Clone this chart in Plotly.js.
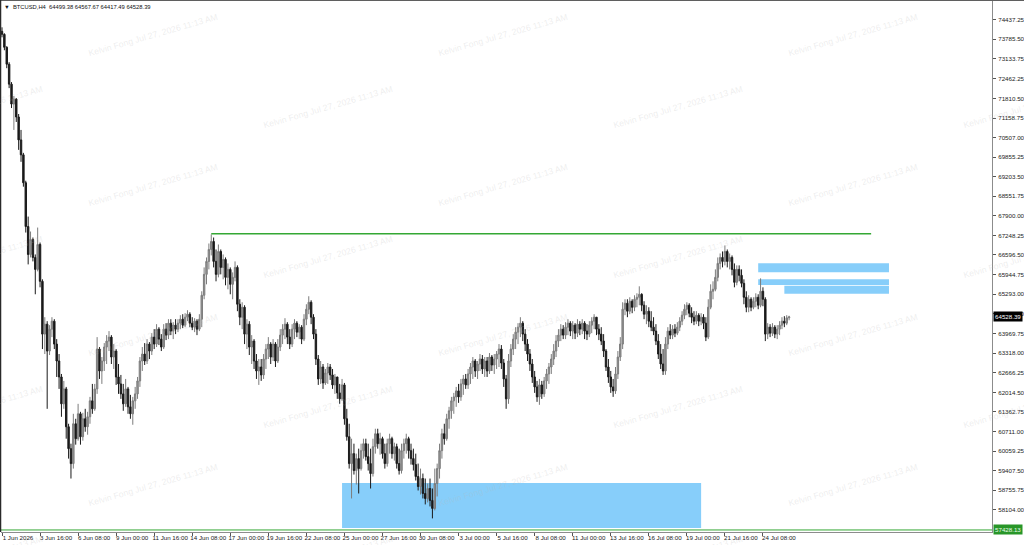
<!DOCTYPE html>
<html><head><meta charset="utf-8">
<script src="https://cdn.plot.ly/plotly-3.0.1.min.js"></script>
<style>html,body{margin:0;padding:0;background:#ffffff;overflow:hidden}#chart{width:1024px;height:545px}</style>
</head><body><div id="chart"></div>
<script>
// ---------------- data ----------------
const symbol = 'BTCUSD,H4';
const startTime = Date.UTC(2026, 5, 1, 0, 0);   // first H4 bar: 1 Jun 2026 00:00
const barHours = 4;

const open = [
74049,73949,73518,72953,72289,71625,71791,71194,70430,69932,
69002,67542,66612,67110,66512,66114,66944,65716,63956,64288,
63392,64122,64388,63624,63060,62528,61632,62130,60868,60138,
59640,60968,60470,61300,60536,61134,60868,61200,61732,61466,
62130,63458,62728,63060,63525,63724,63856,63192,63392,62528,
62296,61964,61632,62130,61532,61300,61732,61964,62396,63060,
63292,63060,63624,63392,63856,63624,64122,63790,63525,64122,
63923,64321,64056,64255,64122,64321,64454,64255,64520,64620,
64321,64188,64388,64122,64454,65251,65948,66380,66778,67044,
66380,65948,66712,66180,66446,65848,66114,65616,65848,66180,
64952,64520,64852,63956,64288,63525,63724,63060,62728,62860,
62595,63126,63458,63624,63192,63624,63060,63525,63923,64122,
64288,63856,63624,64122,64321,64022,64188,63790,64454,64786,
65018,64520,63956,63126,62462,62860,62329,62661,62860,62595,
62263,62528,61997,61798,62263,61134,60536,59640,59972,59408,
59806,59474,60072,60304,59872,59640,59308,60204,60636,60304,
60470,59972,59640,60304,60470,59972,60204,59640,59408,60072,
60304,60470,60072,59806,59607,59208,58876,59142,58644,58478,
58810,58412,58146,58976,59474,60072,60636,60470,61134,61400,
61732,61864,62064,61864,62296,62462,62263,62628,62860,63060,
62728,62960,63126,62794,63060,62728,63192,62927,63126,63292,
63458,62993,62462,61798,63060,63458,63790,64022,64188,64321,
63956,63624,63292,62960,62528,62196,61864,62263,61964,62396,
62628,62860,63126,63392,63724,63923,64122,63923,64188,64321,
64056,64255,63989,64288,64122,64321,64056,63956,64255,64388,
64520,64122,63956,63724,63392,62860,62528,62196,62064,62628,
63192,63624,64786,64985,64720,65052,64852,65118,65184,65284,
64919,64620,64720,64388,64188,64056,63724,63292,62960,62728,
63624,64056,63923,64122,63989,64188,64388,64587,64786,64919,
64653,64520,64388,64587,64388,64520,64321,63856,64852,65384,
65450,65848,66313,66512,66380,66712,66380,66512,66114,65682,
66114,65915,65649,65184,64852,65118,64852,65052,65184,64919,
65384,65118,63956,64188,63989,64188,63956,64122,64255,64388,
64321,64499.38];

const high = [
74182,73982,73551,73020,72356,71891,71824,71293,70762,69998,
69069,67874,67376,67176,66612,67508,67010,65782,64520,64388,
64255,64520,64454,63790,63292,62628,62396,62196,60968,60304,
61300,61134,61632,61366,61333,61466,61366,61864,62296,62296,
63856,63525,63192,63657,63923,64056,63923,63624,63458,62960,
62595,62296,62462,62196,61931,61864,62196,62528,63192,63525,
63657,63790,63690,63989,64122,64288,64188,63956,64288,64321,
64454,64454,64354,64454,64454,64587,64620,64653,64753,64686,
64520,64487,64454,64620,65384,66180,66512,66977,67280,67176,
66778,66944,66778,66612,66512,66313,66180,66014,66380,66247,
65118,65018,64919,64454,64388,63923,63790,63292,63126,63126,
63292,63624,63856,63690,63790,63690,63790,64122,64288,64487,
64354,64122,64288,64454,64388,64288,64255,64620,64952,65218,
65085,64620,64122,63259,63060,62960,62794,62993,62960,62794,
62628,62528,62296,62462,62329,61466,60968,60470,60304,59972,
60138,60304,60470,60470,60304,60138,60470,60802,60802,60669,
60536,60304,60470,60636,60536,60337,60304,60138,60304,60470,
60636,60536,60304,60138,59972,59640,59474,59308,59142,58976,
59142,58810,59474,59640,60304,60802,60968,61300,61532,61864,
61997,62196,62296,62462,62595,62628,62794,62993,63192,63126,
63060,63292,63259,63192,63192,63325,63259,63292,63392,63624,
63591,63126,62595,63292,63624,63956,64188,64321,64520,64388,
64122,63790,63458,63126,62728,62396,62462,62396,62528,62794,
62993,63292,63624,63923,64122,64288,64255,64354,64454,64388,
64388,64321,64454,64388,64454,64388,64288,64388,64520,64620,
64520,64288,64188,63956,63458,63126,62728,62462,62860,63392,
63856,65018,65118,65118,65184,65118,65251,65317,65550,65317,
65052,64919,64852,64720,64520,64288,63956,63624,63458,63856,
64188,64288,64255,64288,64354,64520,64720,64952,65018,64985,
64852,64720,64720,64653,64653,64620,64520,65118,65616,65716,
66114,66512,66645,66712,66911,66778,66645,66579,66313,66247,
66247,66114,65782,65384,65251,65184,65184,65317,65284,65815,
65516,65184,64321,64288,64321,64255,64255,64388,64520,64554,
64587,64567.67];

const low = [
73850,73418,72820,72156,71492,70762,71028,70098,69700,68870,
67342,66280,66512,66380,65284,66048,65516,63458,63292,61466,
63259,63856,63458,62528,62130,61200,61466,60470,59806,59142,
59474,60271,60404,60271,60404,60702,60603,60968,61300,61400,
61964,62462,62296,62728,62960,63392,62960,62794,62263,61964,
61798,61400,61532,61300,61134,60935,61466,61798,62196,62728,
62927,62960,63126,63259,63458,63525,63591,63392,63458,63757,
63790,63923,63790,63956,64022,64122,64155,64188,64388,64188,
64089,64022,63923,64056,64188,65118,65616,66114,66579,66180,
65716,65848,65948,65782,65583,65450,65284,65118,65716,64720,
64255,64122,63624,63458,63259,62960,62794,62462,62263,62396,
62462,62794,63126,62960,63060,62860,62993,63392,63624,63790,
63624,63458,63525,63790,63856,63790,63624,63724,64255,64620,
64288,63790,62927,62263,62296,62130,62263,62296,62429,62130,
61964,61798,61632,61732,60935,60404,59474,58478,59275,58943,
58644,59408,59806,59740,59408,58810,59208,59972,60138,59939,
59806,59474,59540,59972,59806,59740,59474,59275,59308,59806,
59972,59806,59607,59408,59076,58744,58611,58478,58279,58345,
58212,57814,58080,58544,59142,59806,60271,60404,60802,61134,
61300,61532,61665,61732,61931,62130,62130,62296,62462,62528,
62462,62728,62628,62528,62528,62628,62728,62628,62794,62860,
62794,62196,61466,61632,62860,63259,63458,63624,63856,63724,
63392,63060,62728,62329,61997,61698,61599,61798,61864,62130,
62296,62628,62927,63192,63525,63724,63790,63790,63923,63890,
63790,63790,63856,63923,63956,63790,63757,63856,63989,64122,
63923,63757,63591,63192,62728,62329,61997,61864,61964,62462,
63060,63458,64587,64520,64620,64653,64720,64852,64919,64720,
64454,64288,64188,64056,63923,63591,63126,62794,62595,62600,
63458,63790,63790,63856,63923,64056,64255,64454,64587,64520,
64321,64255,64288,64222,64255,64122,63724,63790,64786,65118,
65384,65716,66114,66180,66247,66180,66114,65915,65516,65583,
65716,65516,64952,64686,64686,64720,64786,64852,64786,64852,
64886,63724,63790,63856,63890,63823,63790,63923,64122,64188,
64255,64417.49];

const close = [
73949,73518,72953,72289,71625,71791,71194,70430,69932,69002,
67542,66612,67110,66512,66114,66944,65716,63956,64288,63392,
64122,64388,63624,63060,62528,61632,62130,60868,60138,59640,
60968,60470,61300,60536,61134,60868,61200,61732,61466,62130,
63458,62728,63060,63525,63724,63856,63192,63392,62528,62296,
61964,61632,62130,61532,61300,61732,61964,62396,63060,63292,
63060,63624,63392,63856,63624,64122,63790,63525,64122,63923,
64321,64056,64255,64122,64321,64454,64255,64520,64620,64321,
64188,64388,64122,64454,65251,65948,66380,66778,67044,66380,
65948,66712,66180,66446,65848,66114,65616,65848,66180,64952,
64520,64852,63956,64288,63525,63724,63060,62728,62860,62595,
63126,63458,63624,63192,63624,63060,63525,63923,64122,64288,
63856,63624,64122,64321,64022,64188,63790,64454,64786,65018,
64520,63956,63126,62462,62860,62329,62661,62860,62595,62263,
62528,61997,61798,62263,61134,60536,59640,59972,59408,59806,
59474,60072,60304,59872,59640,59308,60204,60636,60304,60470,
59972,59640,60304,60470,59972,60204,59640,59408,60072,60304,
60470,60072,59806,59607,59208,58876,59142,58644,58478,58810,
58412,58146,58976,59474,60072,60636,60470,61134,61400,61732,
61864,62064,61864,62296,62462,62263,62628,62860,63060,62728,
62960,63126,62794,63060,62728,63192,62927,63126,63292,63458,
62993,62462,61798,63060,63458,63790,64022,64188,64321,63956,
63624,63292,62960,62528,62196,61864,62263,61964,62396,62628,
62860,63126,63392,63724,63923,64122,63923,64188,64321,64056,
64255,63989,64288,64122,64321,64056,63956,64255,64388,64520,
64122,63956,63724,63392,62860,62528,62196,62064,62628,63192,
63624,64786,64985,64720,65052,64852,65118,65184,65284,64919,
64620,64720,64388,64188,64056,63724,63292,62960,62728,63624,
64056,63923,64122,63989,64188,64388,64587,64786,64919,64653,
64520,64388,64587,64388,64520,64321,63856,64852,65384,65450,
65848,66313,66512,66380,66712,66380,66512,66114,65682,66114,
65915,65649,65184,64852,65118,64852,65052,65184,64919,65384,
65118,63956,64188,63989,64188,63956,64122,64255,64388,64321,
64499.38,64528.39];

const yTickVals = [74437.25,73785.50,73133.75,72462.25,71810.50,71158.75,70507.00,69855.25,69203.50,
  68551.75,67900.00,67248.25,66596.50,65944.75,65293.00,64641.50,63969.75,63318.00,62666.25,
  62014.50,61362.75,60711.00,60059.25,59407.50,58755.75,58104.00];
const yTickText = ['74437.25','73785.50','73133.75','72462.25','71810.50','71158.75','70507.00','69855.25','69203.50',
  '68551.75','67900.00','67248.25','66596.50','65944.75','65293.00','64641.50','63969.75','63318.00','62666.25',
  '62014.50','61362.75','60711.00','60059.25','59407.50','58755.75','58104.00'];

const xTickVals = ['2026-06-01 00:00','2026-06-03 16:00','2026-06-06 08:00','2026-06-09 00:00','2026-06-11 16:00',
  '2026-06-14 08:00','2026-06-17 00:00','2026-06-19 16:00','2026-06-22 08:00','2026-06-25 00:00','2026-06-27 16:00',
  '2026-06-30 08:00','2026-07-03 00:00','2026-07-05 16:00','2026-07-08 08:00','2026-07-11 00:00','2026-07-13 16:00',
  '2026-07-16 08:00','2026-07-19 00:00','2026-07-21 16:00','2026-07-24 08:00'];
const xTickText = ['1 Jun 2026','3 Jun 16:00','6 Jun 08:00','9 Jun 00:00','11 Jun 16:00','14 Jun 08:00',
  '17 Jun 00:00','19 Jun 16:00','22 Jun 08:00','25 Jun 00:00','27 Jun 16:00','30 Jun 08:00','3 Jul 00:00',
  '5 Jul 16:00','8 Jul 08:00','11 Jul 00:00','13 Jul 16:00','16 Jul 08:00','19 Jul 00:00','21 Jul 16:00','24 Jul 08:00'];

// horizontal levels and zones (time / price)
const resistanceLevel = 67300;
const resistanceStart = '2026-06-15 16:00';
const resistanceEnd = '2026-07-31 22:00';
const bottomLevel = 57428.13;
const zoneStart = ['2026-06-24 20:00','2026-07-24 00:00','2026-07-24 00:00','2026-07-25 20:00'];
const zoneEnd   = ['2026-07-20 00:00','2026-08-02 04:00','2026-08-02 04:00','2026-08-02 04:00'];
const zoneLow   = [57495, 66017, 65590, 65304];
const zoneHigh  = [58995, 66317, 65784, 65571];

const xRange = ['2026-05-31 22:19','2026-08-09 09:18'];
const yRange = [57360, 75060];
const watermarkText = 'Kelvin Fong Jul 27, 2026 11:13 AM';

// ---------------- build ----------------
function fmt(ms){ return new Date(ms).toISOString().slice(0,16).replace('T',' '); }
const times = close.map((_, i) => fmt(startTime + i * barHours * 3600e3));

const W = 1024, H = 545;
const M = {l:1, r:32, t:1, b:13};
const pw = W - M.l - M.r, ph = H - M.t - M.b;
const px2paperX = px => (px - M.l) / pw;
const px2paperY = py => (H - M.b - py) / ph;

const GREEN = 'rgb(52,168,52)';
const ZONE = 'rgb(135,206,250)';

const shapes = [];
for (let k = 0; k < zoneStart.length; k++) {
  shapes.push({type:'rect', xref:'x', yref:'y', x0:zoneStart[k], x1:zoneEnd[k], y0:zoneLow[k], y1:zoneHigh[k],
    fillcolor:ZONE, line:{width:0}, layer:'below'});
}
shapes.push({type:'line', xref:'x', yref:'y', x0:resistanceStart, x1:resistanceEnd, y0:resistanceLevel, y1:resistanceLevel,
  line:{color:GREEN, width:1.5}});
shapes.push({type:'line', xref:'paper', yref:'y', x0:0, x1:1, y0:bottomLevel, y1:bottomLevel,
  line:{color:GREEN, width:1}});
// window frame (left/top dark edges)
shapes.push({type:'line', xref:'paper', yref:'paper', x0:-0.0005, x1:-0.0005, y0:0, y1:1.002, line:{color:'#2a2a2a', width:1.5}});
shapes.push({type:'line', xref:'paper', yref:'paper', x0:-0.001, x1:1.04, y0:1.0015, y1:1.0015, line:{color:'#2a2a2a', width:1.2}});

const annotations = [];
// watermark lattice
for (let k = 0; k <= 6; k++) {
  const cx = -22 + 175 * k;
  const y0 = (k % 2 === 0) ? 107 : 35;
  for (let m = -1; m <= 3; m++) {
    const cy = y0 + 150 * m;
    if (cy < -30 || cy > 575) continue;
    annotations.push({xref:'paper', yref:'paper', x:px2paperX(cx), y:px2paperY(cy), text:watermarkText,
      showarrow:false, textangle:-16, xanchor:'center', yanchor:'middle',
      font:{family:'Liberation Sans, Arial, sans-serif', size:8.7, color:'rgba(185,185,185,0.26)'}});
  }
}
const last = close.length - 1;
annotations.push({xref:'paper', yref:'paper', x:0, y:1, xanchor:'left', yanchor:'top', xshift:1, yshift:-1,
  showarrow:false, align:'left',
  text:'\u25BC  ' + symbol + '  ' + open[last].toFixed(2) + ' ' + high[last].toFixed(2) + ' ' + low[last].toFixed(2) + ' ' + close[last].toFixed(2),
  font:{family:'Liberation Sans, Arial, sans-serif', size:5.8, color:'#111'}});
annotations.push({xref:'paper', yref:'y', x:1, y:close[last], xanchor:'left', yanchor:'middle', xshift:1,
  showarrow:false, text:close[last].toFixed(2), bgcolor:'#000', borderpad:1,
  font:{family:'Liberation Sans, Arial, sans-serif', size:6.2, color:'#fff'}});
annotations.push({xref:'paper', yref:'y', x:1, y:bottomLevel, xanchor:'left', yanchor:'middle', xshift:1,
  showarrow:false, text:bottomLevel.toFixed(2), bgcolor:'rgb(40,150,40)', borderpad:1,
  font:{family:'Liberation Sans, Arial, sans-serif', size:6.2, color:'#e8ffe8'}});

const trace = {
  type:'candlestick', x:times, open:open, high:high, low:low, close:close,
  increasing:{line:{color:'#7c7c7c', width:1}, fillcolor:'#959595'},
  decreasing:{line:{color:'#1a1a1a', width:1}, fillcolor:'#1a1a1a'},
  whiskerwidth:0, hoverinfo:'skip'
};

const tickFont = {family:'Liberation Sans, Arial, sans-serif', size:6.2, color:'#222'};
const layout = {
  width:W, height:H, margin:M,
  paper_bgcolor:'#ffffff', plot_bgcolor:'#ffffff',
  showlegend:false, dragmode:false, hovermode:false,
  boxgap:0.4, boxgroupgap:0,
  xaxis:{type:'date', range:xRange, rangeslider:{visible:false}, showgrid:false, zeroline:false,
    tickmode:'array', tickvals:xTickVals, ticktext:xTickText, tickangle:0, ticks:'outside', ticklen:3, tickwidth:1, tickcolor:'#555',
    showline:true, linecolor:'#8c8c8c', linewidth:1, tickfont:tickFont, ticklabelshift:16, ticklabelstandoff:-3, fixedrange:true},
  yaxis:{range:yRange, side:'right', showgrid:false, zeroline:false,
    tickmode:'array', tickvals:yTickVals, ticktext:yTickText, ticks:'outside', ticklen:3, tickwidth:1, tickcolor:'#555',
    showline:true, linecolor:'#8c8c8c', linewidth:1, tickfont:tickFont, ticklabelstandoff:1, fixedrange:true},
  shapes:shapes, annotations:annotations
};

Plotly.newPlot('chart', [trace], layout, {displayModeBar:false, staticPlot:true});
</script></body></html>
